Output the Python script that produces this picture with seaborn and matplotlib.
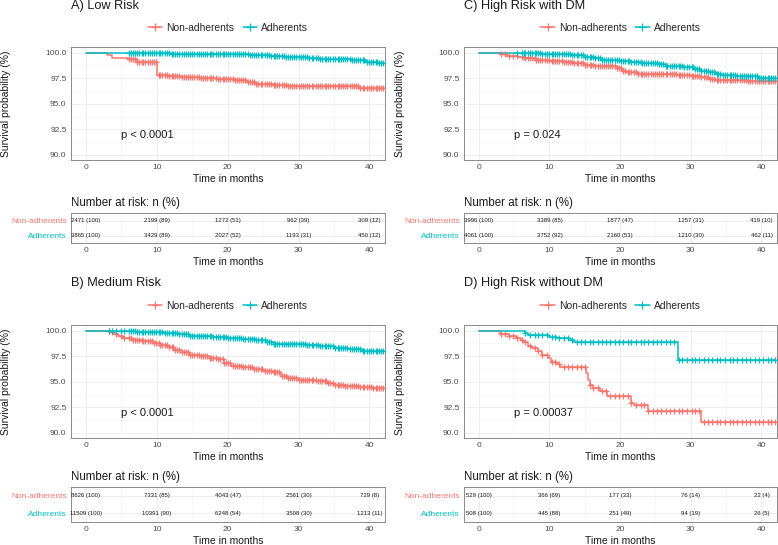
import numpy as np
import pandas as pd
import seaborn as sns
import matplotlib.pyplot as plt
from matplotlib.lines import Line2D
from matplotlib.ticker import MultipleLocator

sns.set_style('white')
plt.rcParams['font.family'] = ['Liberation Sans', 'DejaVu Sans']

RED = '#F8766D'
TEAL = '#00BFC4'
groups = ['Non-adherents', 'Adherents']

panel_titles = ['A) Low Risk', 'B) Medium Risk', 'C) High Risk with DM', 'D) High Risk without DM']
p_values = ['p < 0.0001', 'p < 0.0001', 'p = 0.024', 'p = 0.00037']

# KM step points (months, survival %)
low_non_t = [0, 3.0, 3.7, 6.0, 7.2, 10.0, 11.5, 13.5, 16.0, 18.5, 21.0, 22.7, 24.0, 26.5, 28.5, 38.5, 42]
low_non_s = [100, 99.8, 99.5, 99.35, 99.05, 97.85, 97.75, 97.65, 97.55, 97.45, 97.35, 97.1, 96.95, 96.85, 96.72, 96.55, 96.55]
low_adh_t = [0, 8, 12, 16, 20, 23, 26, 28, 30, 31.5, 33, 37.5, 39.5, 41.2, 42]
low_adh_s = [100, 99.95, 99.9, 99.88, 99.85, 99.78, 99.7, 99.62, 99.55, 99.45, 99.38, 99.25, 99.12, 98.95, 98.95]

med_non_t = [0, 3.3, 3.8, 4.5, 5.3, 6.5, 8, 9.5, 10.5, 11.5, 12.5, 13.5, 14.5, 16, 17.5, 18.5, 19.5, 20.5, 22,
             23.5, 25, 26.5, 27.5, 28.5, 30, 32.5, 34, 35, 36.5, 38.5, 40.5, 42]
med_non_s = [100, 99.85, 99.7, 99.5, 99.3, 99.1, 98.95, 98.8, 98.6, 98.4, 98.15, 97.95, 97.65, 97.5, 97.35, 97.2,
             96.8, 96.5, 96.4, 96.25, 96.05, 95.95, 95.6, 95.35, 95.15, 95.05, 94.85, 94.65, 94.55, 94.5, 94.4, 94.35]
med_adh_t = [0, 5, 7, 9, 11, 13, 14.5, 16, 18, 20, 22, 24, 25.5, 26.5, 29, 31, 33, 35, 37, 39, 42]
med_adh_s = [100, 99.95, 99.9, 99.85, 99.75, 99.65, 99.5, 99.45, 99.35, 99.25, 99.15, 99.05, 98.9, 98.7, 98.65,
             98.55, 98.45, 98.3, 98.2, 98.05, 98.05]

dm_non_t = [0, 3.2, 4, 5.5, 6.5, 8, 10, 12, 13.5, 15, 16.5, 19.5, 20.3, 21, 22.5, 25, 28, 30, 31.5, 32.5, 33.5,
            36, 38, 42]
dm_non_s = [100, 99.85, 99.7, 99.55, 99.45, 99.3, 99.15, 99.05, 98.95, 98.8, 98.65, 98.45, 98.2, 98.1, 97.95,
            97.9, 97.85, 97.75, 97.6, 97.45, 97.35, 97.3, 97.25, 97.25]
dm_adh_t = [0, 6, 9, 11, 13, 15, 16.5, 17.5, 20, 21.5, 23, 25.5, 26.5, 29, 30.5, 31.5, 32.5, 33.5, 34.5, 36.5,
            39.5, 42]
dm_adh_s = [100, 99.95, 99.9, 99.85, 99.75, 99.6, 99.45, 99.3, 99.2, 99.1, 99.0, 98.85, 98.7, 98.55, 98.4, 98.25,
            98.1, 97.95, 97.8, 97.7, 97.55, 97.5]

nodm_non_t = [0, 3.0, 4.2, 5.2, 5.9, 6.3, 7.0, 7.5, 8.4, 8.9, 9.8, 10.2, 11.0, 11.5, 15.2, 15.5, 15.7, 16.2, 17.1,
              18.1, 21.6, 22.0, 24.0, 31.5, 42]
nodm_non_s = [100, 99.7, 99.5, 99.3, 99.1, 98.85, 98.5, 98.3, 98.05, 97.65, 97.35, 96.9, 96.7, 96.45, 95.85, 95.2,
              94.7, 94.4, 94.1, 93.65, 92.95, 92.7, 92.1, 91.05, 91.05]
nodm_adh_t = [0, 6.5, 7.0, 10.0, 11.0, 12.9, 13.4, 28.2, 42]
nodm_adh_s = [100, 99.8, 99.55, 99.4, 99.3, 99.05, 98.85, 97.15, 97.15]

# censoring ticks (months), estimated; each curve shows them from its own start time
censor_times = [3.2, 3.7, 4.3, 4.9, 5.4, 6.1, 6.6, 7.2, 7.9, 8.4, 9.0, 9.6, 10.3, 10.8, 11.4, 12.1, 12.6, 13.2,
                13.9, 14.4, 15.0, 15.7, 16.2, 16.8, 17.5, 18.0, 18.6, 19.3, 19.8, 20.4, 21.1, 21.6, 22.2, 22.9,
                23.4, 24.0, 24.7, 25.2, 25.8, 26.5, 27.0, 27.6, 28.3, 28.8, 29.4, 30.1, 30.6, 31.2, 31.9, 32.4,
                33.0, 33.7, 34.2, 34.8, 35.5, 36.0, 36.6, 37.3, 37.8, 38.4, 39.1, 39.6, 40.2, 40.9, 41.4, 41.9]
# the large cohorts (A-C) are censored so often that the ticks merge into a band
censor_times_large = [6.4, 6.9, 7.5, 8.1, 8.7, 9.3, 9.9, 10.5, 11.1, 11.7, 12.3, 12.9, 13.5, 14.1, 14.7, 15.3,
                      15.9, 16.5, 17.1, 17.7, 18.3, 18.9, 19.5, 20.1, 20.7, 21.3, 21.9, 22.5, 23.1, 23.7, 24.3,
                      24.9, 25.5, 26.1, 26.7, 27.3, 27.9, 28.5, 29.1, 29.7, 30.3, 30.9, 31.5, 32.1, 32.7, 33.3,
                      33.9, 34.5, 35.1, 35.7, 36.3, 36.9, 37.5, 38.1, 38.7, 39.3, 39.9, 40.5, 41.1, 41.7]
censor_start = [(6.0, 6.0), (3.2, 3.2), (3.2, 5.0), (3.2, 6.2)]
dense_panels = [True, True, True, False]

risk_times = [0, 10, 20, 30, 40]
low_non_n, low_non_pct = [2471, 2199, 1272, 962, 309], [100, 89, 51, 39, 12]
low_adh_n, low_adh_pct = [3865, 3429, 2027, 1193, 450], [100, 89, 52, 31, 12]
med_non_n, med_non_pct = [8626, 7331, 4043, 2561, 729], [100, 85, 47, 30, 8]
med_adh_n, med_adh_pct = [11509, 10391, 6248, 3508, 1213], [100, 90, 54, 30, 11]
dm_non_n, dm_non_pct = [3996, 3389, 1877, 1257, 419], [100, 85, 47, 31, 10]
dm_adh_n, dm_adh_pct = [4061, 3752, 2160, 1210, 462], [100, 92, 53, 30, 11]
nodm_non_n, nodm_non_pct = [529, 366, 177, 76, 22], [100, 69, 33, 14, 4]
nodm_adh_n, nodm_adh_pct = [508, 445, 251, 94, 26], [100, 88, 49, 19, 5]

panels = [
    ((low_non_t, low_non_s), (low_adh_t, low_adh_s),
     (low_non_n, low_non_pct), (low_adh_n, low_adh_pct)),
    ((med_non_t, med_non_s), (med_adh_t, med_adh_s),
     (med_non_n, med_non_pct), (med_adh_n, med_adh_pct)),
    ((dm_non_t, dm_non_s), (dm_adh_t, dm_adh_s),
     (dm_non_n, dm_non_pct), (dm_adh_n, dm_adh_pct)),
    ((nodm_non_t, nodm_non_s), (nodm_adh_t, nodm_adh_s),
     (nodm_non_n, nodm_non_pct), (nodm_adh_n, nodm_adh_pct)),
]

W, H = 778, 545
fig = plt.figure(figsize=(W / 100, H / 100), dpi=100)


def add_ax(l, t, r, b):
    return fig.add_axes([l / W, 1 - b / H, (r - l) / W, (b - t) / H])


def style_ax(ax):
    for sp in ax.spines.values():
        sp.set_visible(True)
        sp.set_color('#8A8A8A')
        sp.set_linewidth(0.7)
    ax.tick_params(which='major', length=2, width=0.5, color='#555555', pad=1.2,
                   labelsize=6, labelcolor='#4D4D4D')
    ax.tick_params(which='minor', length=0)
    ax.xaxis.set_minor_locator(MultipleLocator(5))
    ax.set_xticks(risk_times)
    ax.set_xlim(-2.1, 42.2)
    ax.grid(which='major', color='#EBEBEB', lw=0.6)
    ax.grid(which='minor', color='#F3F3F3', lw=0.4)
    ax.set_axisbelow(True)


cols = [(71, 385), (464, 777)]
rows = [dict(title=6, legend=28, km=(47, 160), table=(213, 243)),
        dict(title=283, legend=306, km=(325, 438), table=(487, 522))]
order = [(0, 0), (1, 0), (0, 1), (1, 1)]  # (row, col) for A, B, C, D

for i, (curve_non, curve_adh, risk_non, risk_adh) in enumerate(panels):
    r, c = order[i]
    l, rt = cols[c]
    lay = rows[r]

    fig.text(l / W, 1 - lay['title'] / H, panel_titles[i], fontsize=9.2, ha='left', va='center',
             color='#1A1A1A')

    ax = add_ax(l, lay['km'][0], rt, lay['km'][1])
    style_ax(ax)
    all_censor = censor_times + (censor_times_large if dense_panels[i] else [])
    for (t, s), color, start in zip([curve_non, curve_adh], [RED, TEAL], censor_start[i]):
        df = pd.DataFrame({'t': t, 's': s})
        sns.lineplot(data=df, x='t', y='s', color=color, drawstyle='steps-post', estimator=None,
                     linewidth=1.1, ax=ax, legend=False)
        ct = np.array(sorted(x for x in all_censor if x >= start))
        cy = np.array(s)[np.searchsorted(t, ct, side='right') - 1]
        sns.scatterplot(x=ct, y=cy, marker='+', color=color, s=15, linewidth=0.9, ax=ax,
                        legend=False, zorder=3)
    ax.set_ylim(89.5, 100.55)
    ax.set_yticks([90, 92.5, 95, 97.5, 100])
    ax.set_yticklabels(['90.0', '92.5', '95.0', '97.5', '100.0'])
    ax.yaxis.set_minor_locator(MultipleLocator(1.25))
    ax.text(5, 91.9, p_values[i], fontsize=8, ha='left', va='center', color='#1A1A1A')
    ax.set_xlabel('Time in months', fontsize=7.5, labelpad=1.5, color='#1A1A1A')
    ax.set_ylabel('Survival probability (%)', fontsize=7.5, color='#1A1A1A')
    ax.yaxis.set_label_coords(-0.19, 0.5)

    handles = [Line2D([], [], color=RED, lw=1.1, marker='+', markersize=6, mew=0.9),
               Line2D([], [], color=TEAL, lw=1.1, marker='+', markersize=6, mew=0.9)]
    km_h = lay['km'][1] - lay['km'][0]
    ax.legend(handles, groups, loc='center', ncol=2, frameon=False, fontsize=7.4,
              bbox_to_anchor=(0.5, 1 + (lay['km'][0] - lay['legend']) / km_h),
              handlelength=1.4, handletextpad=0.4, columnspacing=0.8)

    tb = add_ax(l, lay['table'][0], rt, lay['table'][1])
    style_ax(tb)
    tb.set_ylim(0.5, 2.5)
    tb.set_yticks([2, 1])
    tb.set_yticklabels(groups)
    for lab, color in zip(tb.get_yticklabels(), [RED, TEAL]):
        lab.set_color(color)
    for (n, pct), yy in zip([risk_non, risk_adh], [2, 1]):
        for x, nn, pp in zip(risk_times, n, pct):
            tb.text(x, yy, f'{nn} ({pp})', fontsize=4.3, ha='center', va='center', color='#1A1A1A')
    tb.set_title('Number at risk: n (%)', loc='left', fontsize=8.3, pad=5, color='#1A1A1A')
    tb.set_xlabel('Time in months', fontsize=7.5, labelpad=1.5, color='#1A1A1A')
    tb.set_ylabel('')

fig.savefig('out.png', dpi=100)
